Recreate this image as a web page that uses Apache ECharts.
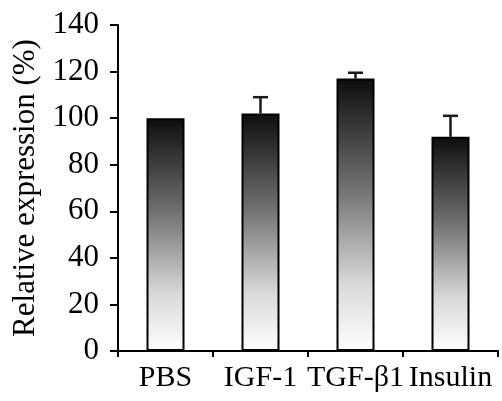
<!DOCTYPE html>
<html><head><meta charset="utf-8">
<script src="https://cdn.jsdelivr.net/npm/echarts@6/dist/echarts.min.js"></script>
<style>html,body{margin:0;padding:0;background:#fff}#c{width:502px;height:401px}</style>
</head><body><div id="c"></div>
<script>
var categories = ['PBS', 'IGF-1', 'TGF-β1', 'Insulin'];
var values = [100, 102, 117, 92];
var errorTops = [100, 109, 119.5, 101];
var yTicks = [0, 20, 40, 60, 80, 100, 120, 140];

var chart = echarts.init(document.getElementById('c'));
var font = 'Liberation Serif, Times New Roman, serif';
var grad = new echarts.graphic.LinearGradient(0, 0, 0, 1, [
  {offset: 0, color: '#0d0d0d'},
  {offset: 0.4, color: '#707070'},
  {offset: 0.75, color: '#d8d8d8'},
  {offset: 1, color: '#ffffff'}
]);
chart.setOption({
  animation: false,
  grid: {left: 118, right: 4, top: 25, bottom: 50},
  xAxis: {
    type: 'category', data: categories,
    axisLine: {lineStyle: {color: '#000', width: 2}},
    axisTick: {show: true, length: 6, lineStyle: {color: '#000', width: 2}},
    axisLabel: {color: '#000', fontFamily: font, fontSize: 30, margin: 12, interval: 0, hideOverlap: false}
  },
  yAxis: {
    type: 'value', min: yTicks[0], max: yTicks[yTicks.length - 1], interval: 20,
    name: 'Relative expression (%)', nameLocation: 'middle', nameGap: 76,
    nameTextStyle: {color: '#000', fontFamily: font, fontSize: 31},
    axisLine: {show: true, lineStyle: {color: '#000', width: 2}},
    axisTick: {show: true, length: 8, lineStyle: {color: '#000', width: 2}},
    axisLabel: {color: '#000', fontFamily: font, fontSize: 31, margin: 19},
    splitLine: {show: false}
  },
  series: [{
    type: 'bar', data: values, barWidth: '40%',
    itemStyle: {color: grad, borderColor: '#000', borderWidth: 2}
  }, {
    type: 'custom',
    data: categories.map(function (c, i) { return [i, values[i], errorTops[i]]; }),
    renderItem: function (params, api) {
      var base = api.coord([api.value(0), api.value(1)]);
      var top = api.coord([api.value(0), api.value(2)]);
      if (Math.abs(base[1] - top[1]) < 1) return null;
      var hw = 7.5;
      var st = {stroke: '#1a1a1a', lineWidth: 2.5};
      return {type: 'group', children: [
        {type: 'line', shape: {x1: base[0], y1: base[1], x2: top[0], y2: top[1]}, style: st},
        {type: 'line', shape: {x1: top[0] - hw, y1: top[1], x2: top[0] + hw, y2: top[1]}, style: st}
      ]};
    },
    z: 1
  }]
});
</script></body></html>
